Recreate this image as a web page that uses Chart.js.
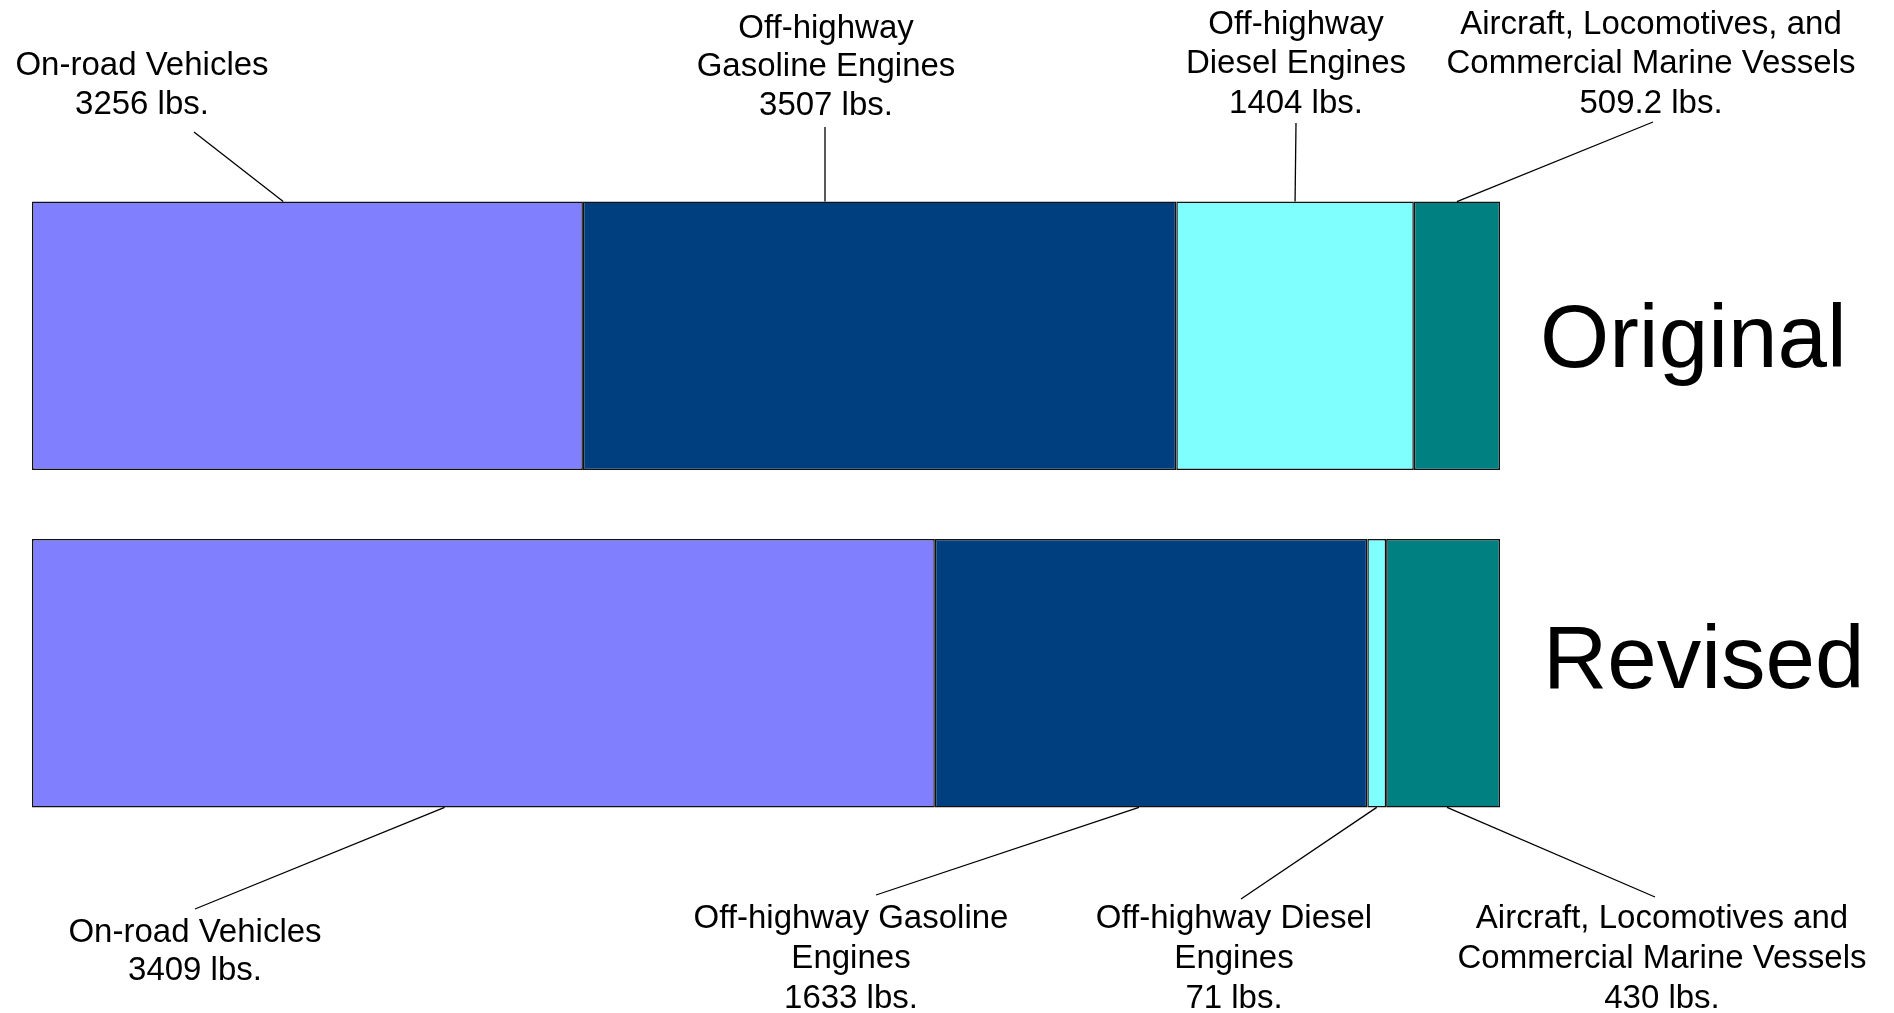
<!DOCTYPE html>
<html>
<head>
<meta charset="utf-8">
<title>Original vs Revised</title>
<script src="https://cdn.jsdelivr.net/npm/chart.js@4"></script>
<style>
  html, body { margin: 0; padding: 0; background: #fff; }
  canvas { display: block; }
</style>
</head>
<body>
<canvas id="barChart" width="1894" height="1013"></canvas>
<script>
// Data
const categories = ['Original', 'Revised'];
const sourceNames = [
  'On-road Vehicles',
  'Off-highway Gasoline Engines',
  'Off-highway Diesel Engines',
  'Aircraft, Locomotives, and Commercial Marine Vessels',
];
const originalLbs = [3256, 3507, 1404, 509.2];
const revisedLbs = [3409, 1633, 71, 430];
const sourceColors = ['#8080ff', '#003f7f', '#80ffff', '#008080'];

// How the callout texts are broken into lines (value line added below)
const originalLines = [
  ['On-road Vehicles'],
  ['Off-highway', 'Gasoline Engines'],
  ['Off-highway', 'Diesel Engines'],
  ['Aircraft, Locomotives, and', 'Commercial Marine Vessels'],
];
const revisedLines = [
  ['On-road Vehicles'],
  ['Off-highway Gasoline', 'Engines'],
  ['Off-highway Diesel', 'Engines'],
  ['Aircraft, Locomotives and', 'Commercial Marine Vessels'],
];

// share of each bar (both bars run the full width)
function shares(values) {
  const total = values.reduce((a, b) => a + b, 0);
  return values.map((v) => (v / total) * 100);
}
const originalShare = shares(originalLbs);
const revisedShare = shares(revisedLbs);

// Callout placement: text centre x, line baselines, leader start, anchor on the segment
const calloutLayout = [
  [ // Original (above the bar)
    { cx: 142, base: [75, 114], lx: 194, ly: 132, frac: 0.456 },
    { cx: 826, base: [38, 76, 115], lx: 825, ly: 127, frac: 0.408 },
    { cx: 1296, base: [34, 73, 113], lx: 1296, ly: 123, frac: 0.5 },
    { cx: 1651, base: [34, 73, 113], lx: 1653, ly: 122, frac: 0.5 },
  ],
  [ // Revised (below the bar)
    { cx: 195, base: [942, 980], lx: 195, ly: 909, frac: 0.457 },
    { cx: 851, base: [928, 968, 1008], lx: 876, ly: 895, frac: 0.472 },
    { cx: 1234, base: [928, 968, 1008], lx: 1241, ly: 899, frac: 0.5 },
    { cx: 1662, base: [928, 968, 1008], lx: 1655, ly: 897, frac: 0.535 },
  ],
];
const bigTitleLayout = [
  { x: 1540, y: 367 },
  { x: 1543, y: 688 },
];

const FONT = '"Liberation Sans", Arial, sans-serif';

const calloutPlugin = {
  id: 'callouts',
  afterDatasetsDraw(chart) {
    const ctx = chart.ctx;
    const lbs = [originalLbs, revisedLbs];
    const lines = [originalLines, revisedLines];
    ctx.save();
    ctx.fillStyle = '#000';
    ctx.strokeStyle = '#000';
    ctx.lineWidth = 1.3;
    ctx.textAlign = 'center';
    ctx.textBaseline = 'alphabetic';
    ctx.font = '33px ' + FONT;

    for (let row = 0; row < categories.length; row++) {
      for (let i = 0; i < sourceNames.length; i++) {
        const bar = chart.getDatasetMeta(i).data[row];
        const p = bar.getProps(['x', 'y', 'base', 'height'], true);
        const lay = calloutLayout[row][i];
        const ax = p.base + lay.frac * (p.x - p.base);
        const ay = row === 0 ? p.y - p.height / 2 : p.y + p.height / 2;

        // leader line
        ctx.beginPath();
        ctx.moveTo(lay.lx, lay.ly);
        ctx.lineTo(ax, ay);
        ctx.stroke();

        // text
        const text = lines[row][i].concat([lbs[row][i] + ' lbs.']);
        text.forEach((t, k) => ctx.fillText(t, lay.cx, lay.base[k]));
      }
    }

    // big row names
    ctx.textAlign = 'left';
    ctx.font = '89px ' + FONT;
    categories.forEach((name, row) => {
      ctx.fillText(name, bigTitleLayout[row].x, bigTitleLayout[row].y);
    });
    ctx.restore();
  },
};

const ctx = document.getElementById('barChart').getContext('2d');
new Chart(ctx, {
  type: 'bar',
  data: {
    labels: categories,
    datasets: sourceNames.map((name, i) => ({
      label: name,
      data: [originalShare[i], revisedShare[i]],
      backgroundColor: sourceColors[i],
      borderColor: '#111',
      borderWidth: 1.5,
      borderSkipped: false,
      barPercentage: 1,
      categoryPercentage: 0.795,
    })),
  },
  options: {
    indexAxis: 'y',
    responsive: false,
    animation: false,
    layout: {
      padding: { left: 32, right: 394, top: 167, bottom: 171 },
    },
    scales: {
      x: { stacked: true, min: 0, max: 100, display: false },
      y: { stacked: true, display: false },
    },
    plugins: {
      legend: { display: false },
      tooltip: { enabled: false },
    },
  },
  plugins: [calloutPlugin],
});
</script>
</body>
</html>
